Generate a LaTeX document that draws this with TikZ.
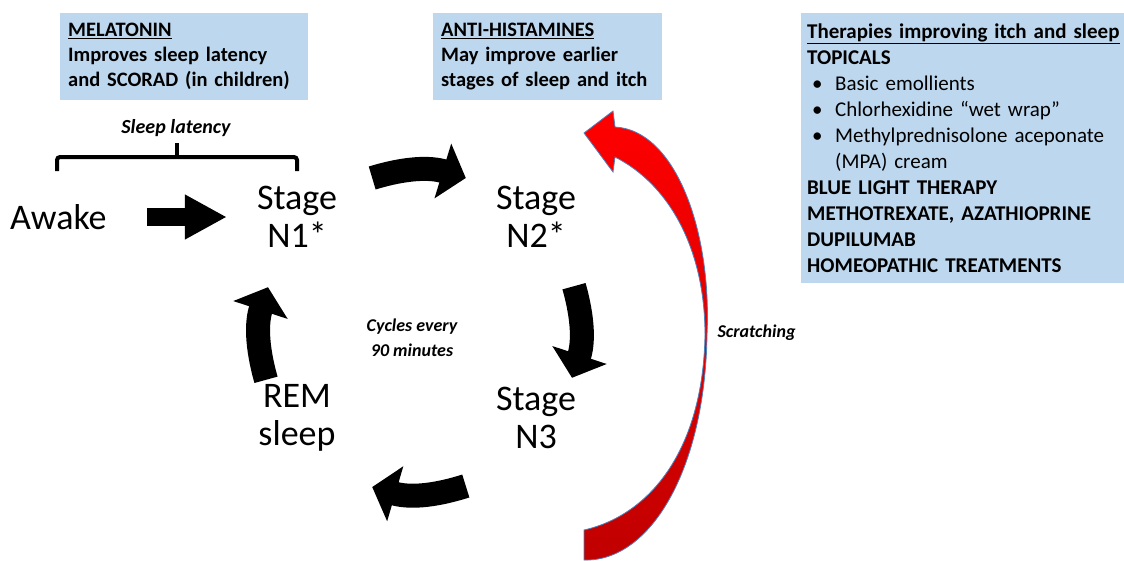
\documentclass[tikz,border=0pt]{standalone}
\usepackage{fontspec}
\setmainfont{Carlito}
\usepackage{tikz}
\usetikzlibrary{arrows.meta,positioning}
\definecolor{boxblue}{RGB}{189,215,238}
\definecolor{scratchdark}{RGB}{192,0,0}
\definecolor{scratchline}{RGB}{79,129,189}
\newcommand{\itembul}{\hspace*{5pt}\makebox[23pt][l]{\textbullet}}
\frenchspacing

\begin{document}
\begin{tikzpicture}[x=1pt,y=1pt,
    stage/.style={font=\fontsize{36}{38}\selectfont,align=center,minimum width=150pt,minimum height=110pt,inner sep=0pt},
    cyc/.style={line width=24pt,-{Triangle[width=56pt,length=24pt]},bend left=17},
    box/.style={fill=boxblue,anchor=north west,align=left,inner xsep=8pt,font=\bfseries\fontsize{20.5}{25}\selectfont},
    note/.style={align=center,font=\bfseries\itshape\fontsize{18}{25}\selectfont}]
\useasboundingbox (0,0) rectangle (1124,-560);
\node [matrix,ampersand replacement=\&,nodes={stage},column sep=89pt,row sep=91pt] (m) at (416.5,-317.5)
    {
\node (n1) {Stage\\N1*}; \& \node (n2) {Stage\\N2*}; \\
\node (rem) {REM\\sleep}; \& \node (n3) {Stage\\N3}; \\
};
\node [left=115pt of n1,inner sep=0pt,font=\fontsize{36}{38}\selectfont] (awake) {Awake};
\node [note] (cyctext) at (412,-338) {Cycles every\\90 minutes};
\node [note,font=\bfseries\itshape\fontsize{20}{25}\selectfont] (lat) at (176,-128) {Sleep latency};
\node [note,anchor=west] (scr) at (714,-333) {Scratching};
% boxes
\node [box,text width=232pt,minimum height=87pt] (mel) at (60,-13)
    {\underline{MELATONIN}\\Improves sleep latency\\and SCORAD (in children)};
\node [box,text width=213pt,minimum height=87pt] (anti) at (433,-13)
    {\underline{ANTI-HISTAMINES}\\May improve earlier\\stages of sleep and itch};
\node [box,text width=311pt,inner xsep=6pt,minimum height=270pt,font=\bfseries\fontsize{21}{26}\selectfont] (ther) at (801,-13)
    {\underline{Therapies improving itch and sleep}\\
     TOPICALS\\
     {\mdseries\itembul Basic emollients}\\
     {\mdseries\itembul Chlorhexidine “wet wrap”}\\
     {\mdseries\itembul Methylprednisolone aceponate}\\
     {\mdseries\hspace*{28pt}(MPA) cream}\\
     BLUE LIGHT THERAPY\\
     METHOTREXATE, AZATHIOPRINE\\
     DUPILUMAB\\
     HOMEOPATHIC TREATMENTS};
% sleep latency brace
\draw [line width=4pt,rounded corners=3pt] (57,-171) -- (57,-157) -- (297,-157) -- (297,-171);
\draw [line width=4pt] (177,-157) -- (177,-143);
% arrows
\draw [line width=18pt,-{Triangle[width=42pt,length=42pt]}] ([xshift=40pt]awake.east) -- ([xshift=5pt]n1.west);
\draw [cyc] ([yshift=39pt]n1.east) to ([xshift=5pt,yshift=39pt]n2.west);
\draw [cyc] ([xshift=38pt,yshift=-14pt]n2.south) to ([xshift=36pt,yshift=-15pt]n3.north);
\draw [cyc] ([xshift=5pt,yshift=-68pt]n3.west) to ([yshift=-69pt]rem.east);
\draw [cyc] ([xshift=-31pt,yshift=-17pt]rem.north) to ([xshift=-29pt,yshift=-15pt]n1.south);
% scratching
\shade [top color=red,middle color=red!92!black,bottom color=scratchdark,draw=scratchline,line width=0.8pt]
    (584,-530) .. controls (650,-515) and (703,-450) .. (705,-335)
    .. controls (705,-250) and (670,-185) .. (615,-157)
    -- (613,-172) -- (584,-133) -- (613,-111) -- (615,-127)
    .. controls (675,-130) and (712,-230) .. (707,-335)
    .. controls (705,-470) and (650,-562) .. (584,-560) -- cycle;
\end{tikzpicture}
\end{document}
